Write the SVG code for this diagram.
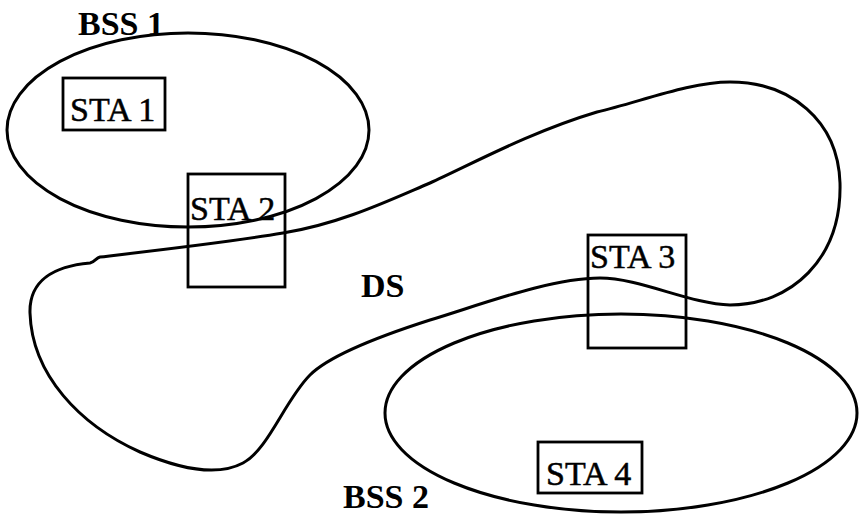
<svg xmlns="http://www.w3.org/2000/svg" width="859" height="519" viewBox="0 0 859 519">
  <style>
    .area { fill: none; stroke: #000; stroke-width: 3; }
    .box { fill: none; stroke: #000; stroke-width: 2.8; }
    .sta { font-family: "Liberation Serif", "Times New Roman", serif; font-size: 34px; fill: #000; stroke: #000; stroke-width: 0.5; }
    .lbl { font-family: "Liberation Serif", "Times New Roman", serif; font-size: 34px; font-weight: bold; fill: #000; }
  </style>
  <rect width="859" height="519" fill="#fff"/>

  <!-- distribution system -->
  <g id="ds">
    <path class="area" d="M 100,257 C 160,250 230,242 283,233 C 340,224 390,200 430,183 C 470,165 530,132 597,112 C 640,102 690,82 730,82 C 790,82 838,120 840,183 C 842,260 790,305 730,305 C 690,304 640,278 600,278 C 550,278 480,305 430,320 C 380,336 330,355 310,375 C 285,400 268,450 243,463 C 215,478 175,467 140,452 C 80,425 32,375 30,313 C 29,280 55,266 90,263 C 95,262 96,258 100,257 Z"/>
    <text class="lbl" x="361" y="297">DS</text>
  </g>

  <!-- basic service sets -->
  <g id="bss1">
    <ellipse class="area" cx="188" cy="130" rx="181" ry="97"/>
    <text class="lbl" x="78" y="35">BSS 1</text>
  </g>
  <g id="bss2">
    <ellipse class="area" cx="621" cy="413" rx="236" ry="99"/>
    <text class="lbl" x="343" y="508">BSS 2</text>
  </g>

  <!-- stations -->
  <g id="sta1">
    <rect class="box" x="63" y="78" width="102" height="52"/>
    <text class="sta" x="70" y="121">STA 1</text>
  </g>
  <g id="sta2">
    <rect class="box" x="188" y="174" width="97" height="113"/>
    <text class="sta" x="190" y="220">STA 2</text>
  </g>
  <g id="sta3">
    <rect class="box" x="588" y="235" width="98" height="113"/>
    <text class="sta" x="590" y="268">STA 3</text>
  </g>
  <g id="sta4">
    <rect class="box" x="538" y="442" width="104" height="51"/>
    <text class="sta" x="546" y="485">STA 4</text>
  </g>
</svg>
